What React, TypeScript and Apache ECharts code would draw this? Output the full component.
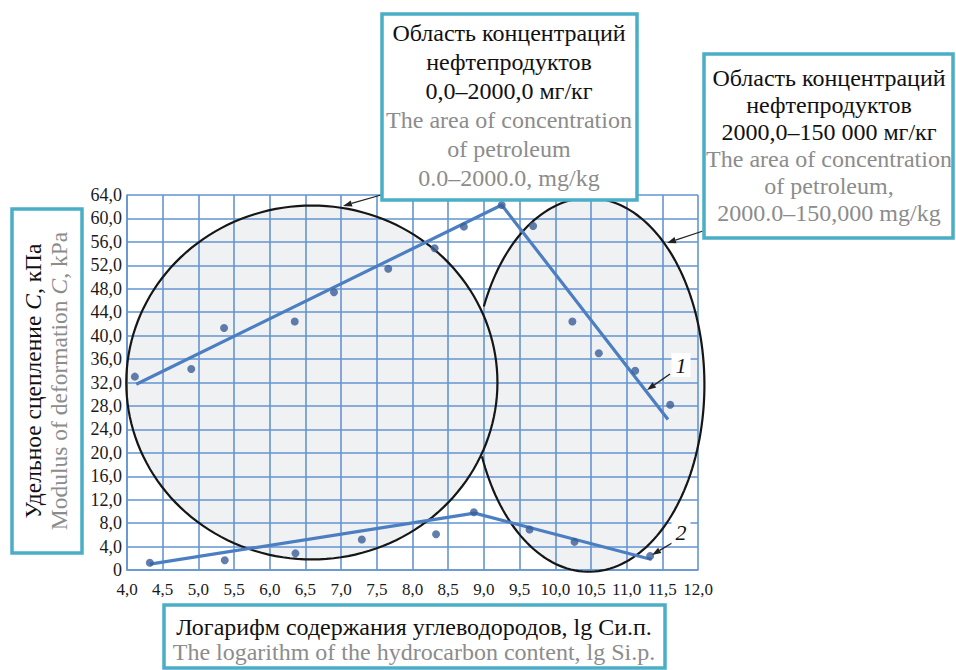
import { useEffect, useRef } from "react";
import * as echarts from "echarts";

// Upper dependence (specific cohesion), points
const upperX = [4.11, 4.9, 5.36, 6.35, 6.9, 7.66, 8.31, 8.72, 9.25, 9.69, 10.24, 10.61, 11.12, 11.61];
const upperY = [33.0, 34.3, 41.3, 42.4, 47.4, 51.4, 54.9, 58.6, 62.3, 58.7, 42.4, 37.0, 34.0, 28.2];
// Lower dependence, points
const lowerX = [4.32, 5.37, 6.36, 7.29, 8.33, 8.86, 9.64, 10.27, 11.33];
const lowerY = [1.25, 1.65, 2.84, 5.2, 6.1, 9.85, 6.9, 4.8, 2.4];
// Trend polylines
const trend1X = [4.13, 9.25, 11.58];
const trend1Y = [31.7, 62.3, 25.7];
const trend2X = [4.32, 8.87, 11.35];
const trend2Y = [1.0, 9.7, 1.8];
// Concentration areas (ellipses): centre x, centre y, radius x, radius y, start angle, end angle
const areaLeft = [6.59, 32.0, 2.6, 30.2, 0, 6.2832];
const areaRight = [10.47, 31.6, 1.62, 31.9, 3.574, 9.032];

const X_MIN = 4, X_MAX = 12, X_STEP = 0.5;
const Y_MIN = 0, Y_MAX = 64, Y_STEP = 4;

const FONT = "Liberation Serif";
const TEAL = "#4aafc6";
const GRAY = "#8c8c8c";
const GRID = "#6595d0";

const zip = (xs: number[], ys: number[]) => xs.map((x, i) => [x, ys[i]]);

function ellipsePoints(api: any, closed: boolean) {
  const c = api.coord([api.value(0), api.value(1)]);
  const s = api.size([api.value(2), api.value(3)]);
  const t0 = closed ? 0 : api.value(4);
  const t1 = closed ? Math.PI * 2 : api.value(5);
  const pts: number[][] = [];
  const n = 160;
  for (let i = 0; i <= n; i++) {
    const t = t0 + ((t1 - t0) * i) / n;
    pts.push([c[0] + s[0] * Math.cos(t), c[1] + s[1] * Math.sin(t)]);
  }
  return pts;
}

function arrow(x1: number, y1: number, x2: number, y2: number) {
  const a = Math.atan2(y2 - y1, x2 - x1);
  const len = 9, w = 3.2;
  const bx = x2 - len * Math.cos(a), by = y2 - len * Math.sin(a);
  const px = -Math.sin(a) * w, py = Math.cos(a) * w;
  return [
    { type: "line", shape: { x1, y1, x2: bx, y2: by }, style: { stroke: "#222", lineWidth: 1.3 }, z: 20 },
    {
      type: "polygon",
      shape: { points: [[x2, y2], [bx + px, by + py], [bx - px, by - py]] },
      style: { fill: "#222" },
      z: 20,
    },
  ];
}

function textLines(cx: number, ys: number[], lines: string[], colors: string[], size: number) {
  return lines.map((t, i) => ({
    type: "text",
    x: cx,
    y: ys[i],
    z: 30,
    style: {
      text: t,
      fill: colors[i],
      fontSize: size,
      fontFamily: FONT,
      align: "center",
      verticalAlign: "middle",
    },
  }));
}

export default function App() {
  const ref = useRef<HTMLDivElement>(null);
  useEffect(() => {
    if (!ref.current) return;
    const chart = echarts.init(ref.current, undefined, { renderer: "svg" });
    const fmt = (v: number) => (v === 0 ? "0" : v.toFixed(1).replace(".", ","));
    const box1 = ["Область концентраций", "нефтепродуктов", "0,0–2000,0 мг/кг", "The area of concentration", "of petroleum", "0.0–2000.0, mg/kg"];
    const box2 = ["Область концентраций", "нефтепродуктов", "2000,0–150 000 мг/кг", "The area of concentration", "of petroleum,", "2000.0–150,000 mg/kg"];
    const cols = ["#111", "#111", "#111", GRAY, GRAY, GRAY];
    const option: any = {
      animation: false,
      backgroundColor: "#fff",
      textStyle: { fontFamily: FONT },
      grid: { left: 127, right: 258, top: 195, bottom: 100 },
      xAxis: {
        type: "value",
        min: X_MIN,
        max: X_MAX,
        interval: X_STEP,
        axisLine: { show: true, lineStyle: { color: GRID, width: 1.6 } },
        axisTick: { show: false },
        splitLine: { show: true, lineStyle: { color: GRID, width: 1.6 } },
        axisLabel: { formatter: (v: number) => v.toFixed(1).replace(".", ","), color: "#1a1a1a", fontSize: 17, fontFamily: FONT, margin: 11 },
      },
      yAxis: {
        type: "value",
        min: Y_MIN,
        max: Y_MAX,
        interval: Y_STEP,
        axisLine: { show: true, lineStyle: { color: GRID, width: 1.6 } },
        axisTick: { show: false },
        splitLine: { show: true, lineStyle: { color: GRID, width: 1.6 } },
        axisLabel: { formatter: fmt, color: "#1a1a1a", fontSize: 18, fontFamily: FONT, margin: 5 },
      },
      series: [
        {
          type: "custom",
          z: -1,
          silent: true,
          data: [areaLeft, areaRight],
          renderItem: (_p: any, api: any) => ({
            type: "polygon",
            shape: { points: ellipsePoints(api, true) },
            style: { fill: "#f0f1f3", stroke: null },
          }),
        },
        {
          type: "custom",
          z: 5,
          silent: true,
          data: [areaLeft, areaRight],
          renderItem: (_p: any, api: any) => ({
            type: "polyline",
            shape: { points: ellipsePoints(api, false) },
            style: { stroke: "#161616", lineWidth: 2.2, fill: null },
          }),
        },
        {
          type: "line",
          data: zip(trend1X, trend1Y),
          symbol: "none",
          z: 6,
          lineStyle: { color: "#4c7fc2", width: 3.2 },
        },
        {
          type: "line",
          data: zip(trend2X, trend2Y),
          symbol: "none",
          z: 6,
          lineStyle: { color: "#4c7fc2", width: 3.2 },
        },
        {
          type: "scatter",
          data: zip(upperX, upperY),
          symbolSize: 8,
          z: 7,
          itemStyle: { color: "#3a5e97" },
        },
        {
          type: "scatter",
          data: zip(lowerX, lowerY),
          symbolSize: 8,
          z: 7,
          itemStyle: { color: "#3a5e97" },
        },
      ],
      graphic: [
        ...arrow(381, 195, 343, 206),
        ...arrow(703, 231, 667, 243),
        ...arrow(670, 374, 647, 390),
        ...arrow(672, 543, 652, 555),
        {
          type: "rect",
          shape: { x: 382, y: 14, width: 255, height: 186 },
          style: { fill: "#fff", stroke: TEAL, lineWidth: 3.5 },
          z: 25,
        },
        ...textLines(509, [33, 62, 91, 120, 149, 178], box1, cols, 24),
        {
          type: "rect",
          shape: { x: 704, y: 54, width: 249, height: 184 },
          style: { fill: "#fff", stroke: TEAL, lineWidth: 3.5 },
          z: 25,
        },
        ...textLines(829, [78, 105, 132, 159, 186, 213], box2, cols, 24),
        {
          type: "rect",
          shape: { x: 12, y: 209, width: 70, height: 344 },
          style: { fill: "#fff", stroke: TEAL, lineWidth: 3.5 },
          z: 25,
        },
        {
          type: "text",
          x: 33,
          y: 381,
          rotation: Math.PI / 2,
          z: 30,
          style: {
            text: "Удельное сцепление {i|C}, кПа",
            fill: "#111",
            fontSize: 23.5,
            fontFamily: FONT,
            align: "center",
            verticalAlign: "middle",
            rich: { i: { fontStyle: "italic", fontSize: 23.5, fontFamily: FONT, fill: "#111" } },
          },
        },
        {
          type: "text",
          x: 59,
          y: 381,
          rotation: Math.PI / 2,
          z: 30,
          style: {
            text: "Modulus of deformation {i|C}, kPa",
            fill: GRAY,
            fontSize: 23.5,
            fontFamily: FONT,
            align: "center",
            verticalAlign: "middle",
            rich: { i: { fontStyle: "italic", fontSize: 23.5, fontFamily: FONT, fill: GRAY } },
          },
        },
        {
          type: "rect",
          shape: { x: 164, y: 605, width: 501, height: 63 },
          style: { fill: "#fff", stroke: TEAL, lineWidth: 3.5 },
          z: 25,
        },
        ...textLines(414, [627, 652], ["Логарифм содержания углеводородов, lg Си.п.", "The logarithm of the hydrocarbon content, lg Si.p."], ["#111", GRAY], 24),
        {
          type: "text",
          x: 681,
          y: 365,
          z: 30,
          style: {
            text: "1",
            fill: "#111",
            fontSize: 22,
            fontStyle: "italic",
            fontFamily: FONT,
            align: "center",
            verticalAlign: "middle",
            backgroundColor: "#fff",
            padding: [1, 4],
          },
        },
        {
          type: "text",
          x: 681,
          y: 532,
          z: 30,
          style: {
            text: "2",
            fill: "#111",
            fontSize: 22,
            fontStyle: "italic",
            fontFamily: FONT,
            align: "center",
            verticalAlign: "middle",
            backgroundColor: "#fff",
            padding: [1, 4],
          },
        },
      ],
    };
    chart.setOption(option);
    return () => chart.dispose();
  }, []);
  return <div ref={ref} style={{ position: "fixed", left: 0, top: 0, width: 956, height: 670 }} />;
}
